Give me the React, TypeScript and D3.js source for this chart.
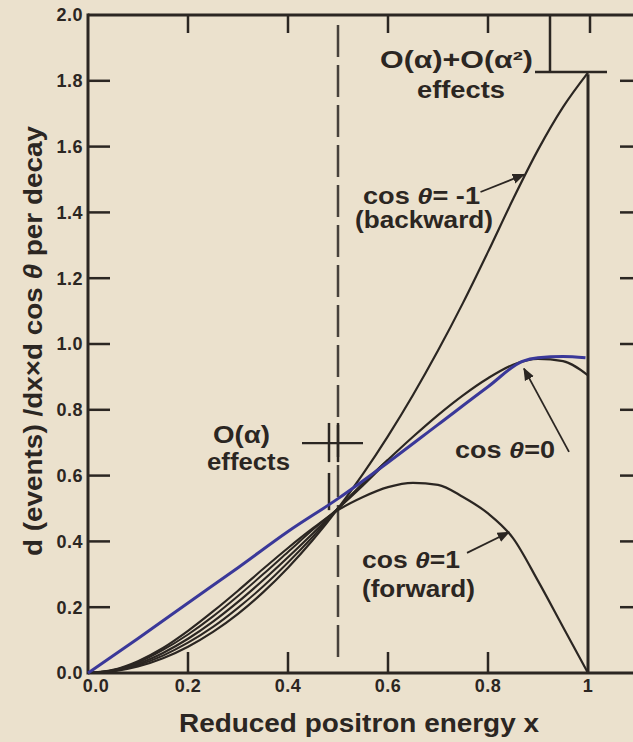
import React from "react";
import * as d3 from "d3";

// ---- data ----
const xGrid = [0, 0.05, 0.1, 0.15, 0.2, 0.25, 0.3, 0.35, 0.4, 0.45, 0.5, 0.55, 0.6, 0.65, 0.7, 0.75, 0.8, 0.85, 0.9, 0.95, 1.0];
const backward = [0, 0.005, 0.02, 0.045, 0.08, 0.125, 0.18, 0.245, 0.32, 0.405, 0.5, 0.605, 0.72, 0.845, 0.98, 1.125, 1.28, 1.44, 1.59, 1.72, 1.825];
const forward = [0, 0.0095, 0.036, 0.076, 0.128, 0.187, 0.25, 0.316, 0.38, 0.44, 0.495, 0.535, 0.565, 0.578, 0.572, 0.535, 0.485, 0.41, 0.28, 0.14, 0];
const cosZero = [0, 0.0072, 0.028, 0.061, 0.104, 0.156, 0.216, 0.282, 0.352, 0.425, 0.5, 0.575, 0.648, 0.718, 0.784, 0.844, 0.896, 0.937, 0.955, 0.948, 0.905];

const bunchX = [0, 0.05, 0.1, 0.15, 0.2, 0.25, 0.3, 0.35, 0.4, 0.45, 0.5, 0.55, 0.6];
const bunchA = [0, 0.0085, 0.032, 0.07, 0.117, 0.172, 0.234, 0.3, 0.368, 0.436, 0.5, 0.57, 0.645];
const bunchB = [0, 0.006, 0.024, 0.053, 0.092, 0.14, 0.198, 0.263, 0.336, 0.415, 0.5, 0.577, 0.648];

const blueX = [0, 0.1, 0.2, 0.3, 0.4, 0.5, 0.6, 0.7, 0.8, 0.87, 0.9, 0.95, 0.995];
const blueY = [0, 0.105, 0.213, 0.32, 0.43, 0.53, 0.64, 0.755, 0.87, 0.948, 0.958, 0.962, 0.958];

const yTickValues = [0, 0.2, 0.4, 0.6, 0.8, 1.0, 1.2, 1.4, 1.6, 1.8, 2.0];
const yTickLabels = ["0.0", "0.2", "0.4", "0.6", "0.8", "1.0", "1.2", "1.4", "1.6", "1.8", "2.0"];
const xTickValues = [0, 0.2, 0.4, 0.6, 0.8, 1.0];
const xTickLabels = ["0.0", "0.2", "0.4", "0.6", "0.8", "1"];

const W = 633;
const H = 742;
const INK = "#2b2622";
const BLUE = "#3a3899";
const PAPER = "#ebe1cd";
const FONT = "'Liberation Sans', Arial, sans-serif";

export default function App() {
  const x = d3.scaleLinear().domain([0, 1]).range([88, 588]);
  const y = d3.scaleLinear().domain([0, 2]).range([673, 15]);
  const xRightAxis = x(1.108);

  const line = d3
    .line<[number, number]>()
    .x((d) => x(d[0]))
    .y((d) => y(d[1]))
    .curve(d3.curveMonotoneX);

  const zip = (xs: number[], ys: number[]) => xs.map((v, i) => [v, ys[i]] as [number, number]);

  const seg = (x1: number, y1: number, x2: number, y2: number, w = 2, extra: any = {}) => (
    <line x1={x(x1)} y1={y(y1)} x2={x(x2)} y2={y(y2)} stroke={INK} strokeWidth={w} {...extra} />
  );

  const txt = (s: React.ReactNode, px: number, py: number, len: number, size = 23, anchor = "start") => (
    <text
      x={px}
      y={py}
      fontSize={size}
      fontFamily={FONT}
      fontWeight="bold"
      fill={INK}
      textAnchor={anchor as any}
      textLength={len}
      lengthAdjust="spacingAndGlyphs"
    >
      {s}
    </text>
  );

  const th = <tspan fontStyle="italic">θ</tspan>;

  return (
    <svg
      width={W}
      height={H}
      viewBox={`0 0 ${W} ${H}`}
      style={{ position: "absolute", left: 0, top: 0, background: PAPER }}
    >
      <defs>
        <marker id="arr" viewBox="0 0 10 10" refX="9" refY="5" markerWidth="7" markerHeight="7" orient="auto">
          <path d="M0,1 L10,5 L0,9 z" fill={INK} />
        </marker>
      </defs>
      <rect x={0} y={0} width={W} height={H} fill={PAPER} />

      {/* frame */}
      <line x1={x(0)} y1={y(2)} x2={W} y2={y(2)} stroke={INK} strokeWidth={3} />
      <line x1={x(0)} y1={y(0)} x2={W} y2={y(0)} stroke={INK} strokeWidth={3} />
      <line x1={x(0)} y1={y(2) - 1.5} x2={x(0)} y2={y(0) + 1.5} stroke={INK} strokeWidth={3} />
      <line x1={x(1)} y1={y(1.82)} x2={x(1)} y2={y(0)} stroke={INK} strokeWidth={3} />

      {/* left/right ticks and labels */}
      {yTickValues.map((v, i) => (
        <g key={"yt" + i}>
          {v > 0 && v < 2 && (
            <line x1={x(0)} y1={y(v)} x2={x(0) + 22} y2={y(v)} stroke={INK} strokeWidth={2.5} />
          )}
          {v > 0 && v < 2 && (
            <line x1={xRightAxis - 22} y1={y(v)} x2={xRightAxis} y2={y(v)} stroke={INK} strokeWidth={2.5} />
          )}
          <text
            x={83}
            y={y(v)}
            dy="0.36em"
            textAnchor="end"
            fontSize={18}
            fontFamily={FONT}
            fontWeight="bold"
            fill={INK}
            letterSpacing={0.5}
          >
            {yTickLabels[i]}
          </text>
        </g>
      ))}

      {/* x ticks and labels */}
      {xTickValues.map((v, i) => (
        <g key={"xt" + i}>
          {v > 0 && v < 1 && (
            <line x1={x(v)} y1={y(0)} x2={x(v)} y2={y(0) - 21} stroke={INK} strokeWidth={2.5} />
          )}
          {v > 0 && (
            <line x1={x(v) + (v === 1 ? 2 : 0)} y1={y(2)} x2={x(v) + (v === 1 ? 2 : 0)} y2={y(2) + 18} stroke={INK} strokeWidth={2.5} />
          )}
          <text
            x={v === 0 ? x(v) + 8 : x(v)}
            y={692}
            textAnchor="middle"
            fontSize={18}
            fontFamily={FONT}
            fontWeight="bold"
            fill={INK}
            letterSpacing={0.5}
          >
            {xTickLabels[i]}
          </text>
        </g>
      ))}

      {/* axis titles */}
      {txt("Reduced positron energy x", 359, 732, 360, 25, "middle")}
      <g transform={`translate(42, 341) rotate(-90)`}>
        {txt(
          <>
            d (events) /dx×d cos {th} per decay
          </>,
          0,
          0,
          430,
          25,
          "middle"
        )}
      </g>

      {/* dashed x = 0.5 line */}
      <line x1={x(0.5)} y1={25} x2={x(0.5)} y2={658} stroke={INK} strokeWidth={2.5} strokeDasharray="32 8" opacity={0.85} />
      {/* O(alpha) marker */}
      {seg(0.428, 0.699, 0.55, 0.699, 2.2)}
      {seg(0.482, 0.76, 0.482, 0.641, 2.5)}
      {seg(0.482, 0.608, 0.482, 0.495, 2.5)}
      {seg(0.5, 0.76, 0.5, 0.641, 2.5)}

      {/* top bracket */}
      {seg(0.924, 2.0, 0.924, 1.827, 2.5)}
      {seg(0.894, 1.827, 1.038, 1.827, 2.5)}

      {/* curves */}
      <path d={line(zip(bunchX, bunchA)) || ""} fill="none" stroke={INK} strokeWidth={2} />
      <path d={line(zip(bunchX, bunchB)) || ""} fill="none" stroke={INK} strokeWidth={2} />
      <path d={line(zip(xGrid, forward)) || ""} fill="none" stroke={INK} strokeWidth={2.2} />
      <path d={line(zip(xGrid, backward)) || ""} fill="none" stroke={INK} strokeWidth={2.2} />
      <path d={line(zip(xGrid, cosZero)) || ""} fill="none" stroke={INK} strokeWidth={2.2} />
      <path d={line(zip(blueX, blueY)) || ""} fill="none" stroke={BLUE} strokeWidth={3} />

      {/* leaders */}
      {seg(0.785, 1.462, 0.872, 1.515, 1.8, { markerEnd: "url(#arr)" })}
      {seg(0.758, 0.365, 0.842, 0.428, 1.8, { markerEnd: "url(#arr)" })}
      {seg(0.962, 0.672, 0.872, 0.925, 1.8, { markerEnd: "url(#arr)" })}

      {/* annotations */}
      {txt(<>O(α)+O(α²)</>, 380, 68, 153, 23)}
      {txt("effects", 417, 98, 88, 23)}
      {txt(<>cos {th}= -1</>, 363, 204, 117, 23)}
      {txt("(backward)", 355, 228, 138, 23)}
      {txt(<>O(α)</>, 213, 443, 57, 23)}
      {txt("effects", 207, 470, 83, 23)}
      {txt(<>cos {th}=0</>, 455, 458, 100, 23)}
      {txt(<>cos {th}=1</>, 362, 568, 98, 23)}
      {txt("(forward)", 362, 597, 113, 23)}
    </svg>
  );
}
